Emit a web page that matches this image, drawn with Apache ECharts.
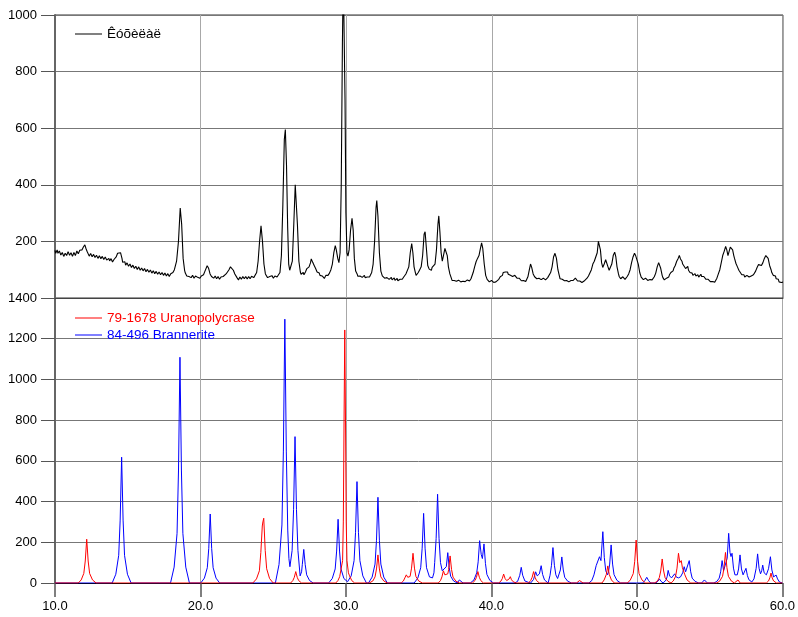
<!DOCTYPE html>
<html>
<head>
<meta charset="utf-8">
<script src="https://cdn.jsdelivr.net/npm/echarts@6/dist/echarts.min.js"></script>
<style>
html,body{margin:0;padding:0;background:#fff;}
#chart{width:798px;height:617px;}
</style>
</head>
<body>
<div id="chart"></div>
<script>
// x ticks
var xTicks = [10, 20, 30, 40, 50, 60];
var topYTicks = [200, 400, 600, 800, 1000];
var bottomYTicks = [0, 200, 400, 600, 800, 1000, 1200, 1400];

var observedName = 'Êóõèëàë';
var uranoName = '79-1678 Uranopolycrase';
var brannName = '84-496 Brannerite';

// observed pattern [2theta, counts]
var observedPattern = [
[10.0,168],[10.05,158],[10.1,160],[10.15,170],[10.2,158],[10.25,155],[10.3,166],[10.35,162],[10.4,152],[10.45,150],[10.5,161],[10.55,158],[10.6,147],[10.65,148],[10.7,158],[10.75,160],[10.8,150],[10.85,152],
[10.9,164],[10.95,163],[11.0,151],[11.05,150],[11.1,160],[11.15,158],[11.2,147],[11.25,148],[11.3,161],[11.35,160],[11.4,150],[11.45,152],[11.5,166],[11.55,165],[11.6,156],[11.65,158],[11.7,169],[11.75,168],[11.8,162],[11.85,170],
[11.9,176],[11.95,180],[12.0,184],[12.05,188],[12.12,176],[12.16,170],[12.2,165],[12.25,160],[12.3,158],[12.35,148],[12.4,150],[12.45,157],[12.5,155],[12.55,146],[12.6,148],[12.65,154],[12.7,152],[12.75,143],[12.8,145],
[12.85,151],[12.9,150],[12.95,140],[13.0,142],[13.05,149],[13.1,148],[13.15,139],[13.2,140],[13.25,147],[13.3,146],[13.35,136],[13.4,138],[13.45,145],[13.5,144],[13.55,134],[13.6,136],[13.65,141],[13.7,140],[13.75,131],[13.8,132],
[13.85,139],[13.9,138],[13.95,127],[14.0,128],[14.05,136],[14.1,135],[14.2,145],[14.3,158],[14.4,165],[14.5,160],[14.6,140],[14.65,126],[14.7,130],[14.75,120],[14.8,128],
[14.85,116],[14.9,118],[14.95,124],[15.0,122],[15.05,112],[15.1,115],[15.15,120],[15.2,118],[15.25,108],[15.3,110],[15.35,116],[15.4,114],[15.45,104],[15.5,106],[15.55,112],[15.6,110],[15.65,101],[15.7,104],[15.75,110],[15.8,108],
[15.85,98],[15.9,100],[15.95,106],[16.0,104],[16.05,96],[16.1,98],[16.15,104],[16.2,102],[16.25,93],[16.3,95],[16.35,101],[16.4,99],[16.45,91],[16.5,94],[16.55,99],[16.6,97],[16.65,88],[16.7,90],[16.75,96],[16.8,94],
[16.85,86],[16.9,88],[16.95,94],[17.0,92],[17.05,84],[17.1,86],[17.15,92],[17.2,90],[17.25,82],[17.3,84],[17.35,90],[17.4,88],[17.45,80],[17.5,82],[17.55,88],[17.6,86],[17.65,78],[17.7,80],[17.75,86],[17.8,84],
[17.85,76],[17.9,78],[17.95,86],[18.0,85],[18.1,90],[18.2,100],[18.35,130],[18.48,200],[18.6,318],[18.7,260],[18.8,140],[18.9,98],
[18.95,88],[19.0,85],[19.05,78],[19.1,80],[19.15,74],[19.2,76],[19.25,82],[19.3,80],[19.35,72],[19.4,74],[19.45,80],[19.5,78],[19.55,70],[19.6,72],[19.65,78],[19.7,76],[19.75,71],[19.8,73],[19.85,79],[19.9,77],
[19.95,70],[20.0,72],[20.05,78],[20.1,76],[20.2,82],[20.3,95],[20.45,114],[20.55,105],[20.65,85],[20.7,78],[20.75,76],[20.8,82],[20.85,80],[20.9,70],[20.95,72],
[21.0,78],[21.05,76],[21.1,68],[21.15,70],[21.2,76],[21.25,74],[21.3,66],[21.35,68],[21.4,74],[21.45,72],[21.5,78],[21.55,76],[21.6,82],[21.65,80],[21.75,85],[21.85,90],[21.95,100],
[22.05,110],[22.15,105],[22.25,98],[22.35,85],[22.45,78],[22.5,72],[22.55,70],[22.6,64],[22.65,66],[22.7,74],[22.75,72],[22.8,66],[22.85,68],[22.9,76],[22.95,74],
[23.0,68],[23.05,70],[23.1,76],[23.15,74],[23.2,67],[23.25,69],[23.3,76],[23.35,74],[23.4,68],[23.45,70],[23.5,77],[23.55,75],[23.6,70],[23.65,72],[23.75,78],[23.85,90],[23.95,130],
[24.05,200],[24.15,255],[24.25,200],[24.35,120],[24.45,85],[24.55,78],[24.6,72],[24.65,74],[24.7,78],[24.75,76],[24.8,71],[24.85,73],[24.9,79],[24.95,77],
[25.0,70],[25.05,72],[25.1,78],[25.15,76],[25.2,72],[25.25,74],[25.3,80],[25.35,78],[25.45,90],[25.55,150],[25.65,330],[25.75,560],[25.82,595],[25.9,470],
[25.98,250],[26.05,120],[26.12,98],[26.2,100],[26.3,130],[26.4,260],[26.5,400],[26.56,405],[26.65,260],[26.75,130],
[26.85,92],[26.9,84],[26.95,88],[27.0,84],[27.05,90],[27.1,82],[27.15,85],[27.2,92],[27.25,95],[27.3,104],[27.35,100],[27.45,110],[27.55,125],[27.6,138],[27.65,135],[27.7,126],[27.75,128],
[27.8,115],[27.85,118],[27.9,104],[27.95,100],[28.0,92],[28.05,95],[28.1,86],[28.15,88],[28.2,80],[28.25,82],[28.3,76],[28.35,78],[28.4,72],[28.45,74],[28.5,69],[28.55,72],[28.6,80],[28.65,78],[28.7,76],[28.75,80],
[28.85,88],[28.95,100],[29.05,120],[29.15,160],[29.25,185],[29.32,170],[29.42,140],[29.5,125],[29.58,160],[29.66,400],
[29.74,900],[29.8,1150],[29.86,1150],[29.92,700],[29.98,300],[30.05,160],[30.12,148],[30.2,170],[30.3,240],[30.4,282],
[30.48,240],[30.56,140],[30.65,95],[30.7,88],[30.75,85],[30.8,77],[30.85,80],[30.9,74],[30.95,78],[31.0,75],[31.05,82],[31.1,73],[31.15,76],[31.2,71],[31.25,80],[31.3,72],[31.35,75],
[31.4,70],[31.45,74],[31.5,72],[31.55,78],[31.6,74],[31.65,80],[31.75,90],[31.85,120],[31.95,200],[32.05,320],[32.1,344],[32.18,290],[32.28,160],
[32.38,95],[32.48,78],[32.53,72],[32.58,74],[32.64,70],[32.7,77],[32.75,70],[32.8,72],[32.85,68],[32.9,75],[32.95,66],[33.0,70],[33.05,65],[33.1,73],[33.15,64],[33.2,68],[33.25,63],[33.3,71],
[33.35,62],[33.4,66],[33.45,60],[33.5,69],[33.55,61],[33.6,64],[33.65,59],[33.7,66],[33.75,60],[33.8,62],[33.85,66],[33.9,70],[33.95,74],[34.0,78],[34.05,76],[34.1,85],[34.2,92],[34.3,110],
[34.4,160],[34.5,192],[34.58,160],[34.66,110],[34.75,90],[34.8,80],[34.85,84],[34.9,82],[34.95,90],[35.0,96],[35.05,100],[35.15,110],[35.25,150],
[35.35,225],[35.42,234],[35.5,180],[35.6,115],[35.7,102],[35.75,96],[35.8,100],[35.85,98],[35.9,108],[35.95,104],[36.0,112],[36.1,120],[36.2,170],
[36.3,260],[36.36,290],[36.44,230],[36.52,160],[36.6,130],[36.68,150],[36.78,175],[36.86,182],[36.94,150],[37.02,110],
[37.12,85],[37.22,70],[37.27,62],[37.32,64],[37.37,60],[37.42,62],[37.47,58],[37.52,64],[37.57,59],[37.62,60],[37.67,57],[37.72,63],[37.77,58],[37.82,60],[37.87,57],[37.92,62],[37.97,56],[38.02,59],
[38.07,57],[38.12,63],[38.17,58],[38.22,60],[38.27,57],[38.32,64],[38.37,58],[38.42,61],[38.47,60],[38.52,66],[38.57,68],[38.62,75],[38.72,90],[38.82,110],[38.92,128],[39.02,140],
[39.12,150],[39.22,175],[39.3,195],[39.38,175],[39.48,120],[39.58,80],[39.68,66],[39.73,60],[39.78,62],[39.83,57],[39.88,60],[39.93,56],[39.98,62],
[40.03,56],[40.08,58],[40.13,55],[40.18,60],[40.23,54],[40.28,57],[40.33,55],[40.38,60],[40.48,66],[40.58,75],[40.68,82],[40.73,80],[40.78,90],[40.83,88],[40.88,95],[40.93,92],[40.98,98],
[41.03,90],[41.08,92],[41.13,84],[41.18,86],[41.23,78],[41.28,80],[41.33,78],[41.38,84],[41.43,76],[41.48,78],[41.53,82],[41.58,80],[41.63,74],[41.68,76],[41.73,70],[41.78,74],[41.83,68],[41.88,70],[41.93,64],[41.98,66],
[42.03,61],[42.08,64],[42.13,58],[42.18,62],[42.23,57],[42.28,60],[42.33,58],[42.38,64],[42.48,75],[42.58,100],[42.66,120],[42.74,108],[42.84,85],[42.94,75],
[42.99,70],[43.04,72],[43.09,68],[43.14,74],[43.19,67],[43.24,70],[43.29,66],[43.34,72],[43.39,65],[43.44,68],[43.49,64],[43.54,70],[43.59,63],[43.64,66],[43.69,64],[43.74,68],[43.79,66],[43.84,72],[43.94,78],
[44.04,90],[44.14,110],[44.24,145],[44.34,158],[44.44,140],[44.54,100],[44.64,78],[44.69,68],[44.74,70],[44.79,63],[44.84,66],[44.89,60],[44.94,64],
[44.99,61],[45.04,66],[45.09,59],[45.14,62],[45.19,58],[45.24,64],[45.29,57],[45.34,60],[45.39,58],[45.44,62],[45.49,60],[45.54,64],[45.59,62],[45.64,66],[45.69,64],[45.74,70],[45.79,63],[45.84,68],[45.89,60],[45.94,64],
[45.99,58],[46.04,60],[46.09,56],[46.14,62],[46.19,55],[46.24,58],[46.29,56],[46.34,60],[46.39,58],[46.44,64],[46.54,70],[46.64,78],[46.74,84],[46.84,100],[46.94,120],
[47.04,130],[47.14,135],[47.24,160],[47.32,200],[47.38,205],[47.46,170],[47.54,125],[47.62,108],[47.72,120],[47.82,135],
[47.9,132],[47.98,110],[48.06,98],[48.14,96],[48.24,120],[48.34,150],[48.44,162],[48.52,145],[48.6,110],[48.7,85],
[48.75,76],[48.8,74],[48.85,68],[48.9,72],[48.95,67],[49.0,75],[49.05,68],[49.1,70],[49.15,66],[49.2,72],[49.25,70],[49.3,76],[49.35,78],[49.4,85],[49.5,100],[49.6,125],[49.7,145],
[49.8,158],[49.88,150],[49.96,148],[50.06,120],[50.16,90],[50.26,74],[50.31,68],[50.36,72],[50.41,65],[50.46,68],[50.51,64],[50.56,70],[50.61,63],[50.66,66],
[50.71,62],[50.76,68],[50.81,61],[50.86,65],[50.91,62],[50.96,68],[51.01,64],[51.06,70],[51.11,68],[51.16,75],[51.26,88],[51.36,110],[51.46,125],[51.52,129],[51.6,105],
[51.7,80],[51.75,72],[51.8,70],[51.85,64],[51.9,66],[51.95,64],[52.0,70],[52.05,68],[52.1,75],[52.15,74],[52.2,82],[52.25,80],[52.3,90],[52.35,88],[52.4,95],[52.45,96],[52.5,105],[52.6,115],
[52.7,130],[52.8,140],[52.88,150],[52.96,138],[53.06,130],[53.11,120],[53.16,125],[53.21,112],[53.26,115],[53.31,104],[53.36,108],[53.41,104],[53.46,112],[53.51,98],[53.56,100],
[53.61,90],[53.66,95],[53.71,85],[53.76,88],[53.81,80],[53.86,84],[53.91,80],[53.96,86],[54.01,78],[54.06,80],[54.11,76],[54.16,82],[54.21,74],[54.26,78],[54.31,76],[54.36,84],[54.41,76],[54.46,80],[54.51,72],[54.56,76],
[54.61,70],[54.66,72],[54.71,66],[54.76,70],[54.81,63],[54.86,66],[54.91,60],[54.96,64],[55.01,58],[55.06,60],[55.11,56],[55.16,58],[55.21,54],[55.26,57],[55.31,56],[55.36,60],[55.46,70],[55.56,85],
[55.66,100],[55.76,125],[55.86,150],[55.96,165],[56.06,182],[56.14,170],[56.22,150],[56.3,165],[56.38,180],[56.46,182],
[56.54,170],[56.62,150],[56.67,140],[56.72,135],[56.77,122],[56.82,125],[56.87,110],[56.92,112],[56.97,98],[57.02,100],[57.07,90],[57.12,92],[57.17,82],[57.22,85],[57.27,78],[57.32,82],[57.37,74],[57.42,78],
[57.47,74],[57.52,80],[57.57,73],[57.62,77],[57.67,74],[57.72,80],[57.77,74],[57.82,78],[57.87,76],[57.92,82],[57.97,82],[58.02,88],[58.12,95],[58.22,108],[58.32,118],[58.42,122],
[58.52,115],[58.62,125],[58.72,140],[58.82,150],[58.9,152],[58.98,140],[59.08,115],[59.18,100],[59.23,90],[59.28,88],[59.33,80],[59.38,84],
[59.43,74],[59.48,78],[59.53,68],[59.58,72],[59.63,62],[59.68,66],[59.73,57],[59.78,60],[59.83,52],[59.88,55],[59.93,51],[59.96,58],[60.0,56]
];

// reference pattern: Uranopolycrase (red)
var uranopolycrasePattern = [
[10.0,0],[11.6,0],[11.8,15],[11.98,47],[12.08,108],[12.18,215],[12.28,108],[12.38,47],[12.58,15],[12.83,0],
[17.0,0],[17.1,8],[17.2,0],
[23.6,0],[23.85,20],[24.05,60],[24.15,150],[24.25,280],[24.29,300],[24.35,318],[24.45,160],[24.55,70],[24.75,22],[25.0,0],
[26.2,0],[26.35,12],[26.45,28],[26.55,56],[26.65,28],[26.75,12],[26.95,0],
[29.3,0],[29.45,12],[29.57,31],[29.67,40],[29.77,110],[29.82,300],[29.87,800],[29.92,1243],[29.97,800],[30.02,300],[30.07,110],[30.17,50],[30.25,35],[30.4,12],[30.6,0],
[31.6,0],[31.85,10],[32.0,30],[32.1,69],[32.2,138],[32.3,69],[32.4,30],[32.6,10],[32.85,0],
[33.8,0],[33.95,10],[34.05,25],[34.15,40],[34.25,28],[34.35,30],[34.41,32],[34.51,73],[34.61,146],[34.71,73],[34.81,32],[35.0,10],[35.25,0],
[36.35,0],[36.5,12],[36.6,30],[36.7,60],[36.8,40],[36.9,35],[37.0,45],[37.06,66],[37.16,133],[37.26,66],[37.36,29],[37.56,9],[37.8,0],
[38.7,0],[38.87,12],[38.97,28],[39.07,56],[39.17,28],[39.27,12],[39.45,0],
[40.5,0],[40.65,9],[40.75,22],[40.84,44],[40.94,22],[41.05,12],[41.15,12],[41.22,20],[41.3,31],[41.38,16],[41.5,6],[41.7,0],
[42.55,0],[42.7,12],[42.8,28],[42.9,56],[43.0,28],[43.1,12],[43.3,0],
[45.85,0],[45.98,6],[46.06,12],[46.14,6],[46.3,0],
[47.6,0],[47.75,15],[47.9,42],[48.0,84],[48.1,42],[48.25,15],[48.45,0],
[49.35,0],[49.55,15],[49.75,46],[49.85,105],[49.95,211],[50.05,105],[50.15,46],[50.35,15],[50.6,0],
[51.2,0],[51.4,8],[51.54,26],[51.64,59],[51.74,118],[51.84,59],[51.94,26],[52.14,8],[52.35,0],
[52.5,10],[52.66,32],[52.76,73],[52.86,146],[52.95,100],[53.05,110],[53.13,75],[53.2,70],[53.3,40],[53.45,15],[53.7,0],
[55.5,0],[55.7,10],[55.89,33],[55.99,75],[56.09,150],[56.19,75],[56.29,33],[56.49,10],[56.7,0],
[56.8,0],[56.95,15],[57.1,0],
[58.9,0],[59.05,10],[59.14,25],[59.22,49],[59.3,25],[59.4,10],[59.6,0],[60.0,0]
];

// reference pattern: Brannerite (blue)
var branneritePattern = [
[10.0,0],[13.93,0],[14.18,43],[14.38,136],[14.48,309],[14.58,618],[14.68,309],[14.78,136],[14.98,43],[15.23,0],
[17.94,0],[18.19,78],[18.39,244],[18.49,555],[18.59,1109],[18.69,555],[18.79,244],[18.99,78],[19.24,0],
[20.02,0],[20.27,24],[20.47,75],[20.57,170],[20.67,339],[20.77,170],[20.87,75],[21.07,24],[21.32,0],
[25.15,0],[25.4,91],[25.6,285],[25.7,648],[25.8,1296],[25.9,648],[26.0,260],[26.08,120],[26.15,80],[26.3,160],[26.4,360],
[26.5,719],[26.6,360],[26.7,160],[26.85,35],[26.95,55],[27.0,90],[27.1,165],[27.2,90],[27.3,40],[27.5,12],[27.75,0],
[28.81,0],[29.06,22],[29.26,69],[29.36,157],[29.46,313],[29.56,157],[29.66,69],[29.86,22],[30.11,6],
[30.36,35],[30.56,110],[30.66,249],[30.76,498],[30.86,249],[30.96,110],[31.16,35],[31.41,0],
[31.55,0],[31.8,29],[32.0,93],[32.1,210],[32.2,421],[32.3,210],[32.4,93],[32.6,29],[32.85,0],
[34.69,0],[34.94,24],[35.14,75],[35.24,171],[35.34,342],[35.44,171],[35.54,75],[35.74,30],[35.95,25],
[36.05,50],[36.1,100],[36.2,218],[36.3,436],[36.4,218],[36.5,100],[36.62,60],[36.75,60],
[36.9,80],[37.0,149],[37.1,75],[37.2,33],[37.4,10],[37.65,0],[37.8,15],[37.85,20],[37.9,15],[38.05,0],
[38.55,0],[38.8,15],[38.99,50],[39.09,104],[39.19,208],[39.3,140],[39.38,120],[39.49,192],[39.59,96],[39.69,42],[39.89,13],[40.14,0],
[41.6,0],[41.8,8],[41.95,38],[42.05,77],[42.15,38],[42.3,10],[42.55,3],
[42.7,0],[42.9,18],[43.04,55],[43.15,35],[43.3,45],[43.42,85],[43.52,42],[43.65,15],[43.9,0],
[44.03,38],[44.13,87],[44.23,174],[44.33,87],[44.43,40],[44.55,22],[44.65,30],[44.74,64],[44.84,128],[44.94,64],[45.04,28],[45.24,9],[45.5,0],
[46.7,0],[46.9,12],[47.05,40],[47.2,85],[47.3,80],[47.43,129],[47.53,110],[47.66,252],[47.76,126],[47.86,60],[47.98,40],
[48.05,55],[48.13,93],[48.23,187],[48.33,93],[48.43,41],[48.63,13],[48.88,0],
[50.4,0],[50.55,12],[50.68,28],[50.8,12],[50.95,0],
[51.3,0],[51.45,9],[51.55,20],[51.65,9],[51.8,0],
[52.0,14],[52.08,31],[52.15,62],[52.25,35],[52.38,25],[52.5,32],[52.6,45],[52.7,30],[52.85,25],[53.0,30],[53.15,50],
[53.25,80],[53.35,55],[53.47,60],[53.6,110],[53.7,55],[53.8,24],[54.0,8],[54.25,0],
[54.45,0],[54.55,8],[54.64,15],[54.73,8],[54.85,0],
[55.3,0],[55.5,8],[55.66,24],[55.76,55],[55.86,110],[55.96,60],[56.06,60],[56.21,122],[56.31,244],[56.4,150],[56.47,130],
[56.54,146],[56.64,73],[56.74,40],[56.9,40],[56.99,69],[57.09,138],[57.19,69],[57.3,40],[57.4,40],[57.5,72],[57.6,36],
[57.7,16],[57.9,5],[58.05,20],[58.2,72],[58.3,143],[58.4,72],[58.5,45],[58.58,60],[58.65,88],[58.75,50],[58.9,40],
[59.05,70],[59.18,129],[59.28,64],[59.4,30],[59.5,30],[59.57,39],[59.67,20],[59.8,5],[60.0,0]
];

var FONT = '"Liberation Sans", Arial, sans-serif';
var chart = echarts.init(document.getElementById('chart'));
function plain(v) { return String(v); }

chart.setOption({
  animation: false,
  backgroundColor: '#fff',
  textStyle: { fontFamily: FONT },
  grid: [
    { left: 55, right: 15, top: 15, height: 283, show: true, borderColor: '#333', borderWidth: 1 },
    { left: 55, right: 15, top: 298, height: 285 }
  ],
  legend: [
    {
      data: [observedName], icon: 'rect',
      left: 70, top: 22, itemWidth: 27, itemHeight: 1, itemGap: 3,
      textStyle: { color: '#000', fontSize: 13.5, fontFamily: FONT }
    },
    {
      data: [
        { name: uranoName, textStyle: { color: '#ff0000' } },
        { name: brannName, textStyle: { color: '#0000ff' } }
      ], icon: 'rect',
      orient: 'vertical', left: 70, top: 306, itemWidth: 27, itemHeight: 1, itemGap: 3,
      textStyle: { fontSize: 13.5, fontFamily: FONT }
    }
  ],
  xAxis: [
    {
      type: 'value', gridIndex: 0, min: xTicks[0], max: xTicks[xTicks.length - 1], interval: 10,
      axisLabel: { show: false }, axisTick: { show: false },
      axisLine: { show: true, lineStyle: { color: '#444', width: 1 } },
      splitLine: { show: true, lineStyle: { color: '#a8a8a8', width: 1 } }
    },
    {
      type: 'value', gridIndex: 1, min: xTicks[0], max: xTicks[xTicks.length - 1], interval: 10,
      axisLabel: { show: true, fontSize: 13, color: '#000', margin: 17, fontFamily: FONT,
        formatter: function (v) { return v.toFixed(1); } },
      axisTick: { show: true, length: 14, lineStyle: { color: '#555', width: 1.5 } },
      axisLine: { show: true, onZero: false, lineStyle: { color: '#000', width: 1 } },
      splitLine: { show: true, lineStyle: { color: '#a8a8a8', width: 1 } }
    }
  ],
  yAxis: [
    {
      type: 'value', gridIndex: 0, min: 0, max: topYTicks[topYTicks.length - 1], interval: 200,
      axisLabel: { show: true, fontSize: 13, color: '#000', margin: 18, showMinLabel: false, fontFamily: FONT, formatter: plain },
      axisTick: { show: true, length: 14, lineStyle: { color: '#555', width: 1 } },
      axisLine: { show: true, lineStyle: { color: '#666', width: 2 } },
      splitLine: { show: true, lineStyle: { color: '#777', width: 1 } }
    },
    {
      type: 'value', gridIndex: 1, min: bottomYTicks[0], max: bottomYTicks[bottomYTicks.length - 1], interval: 200,
      axisLabel: { show: true, fontSize: 13, color: '#000', margin: 18, fontFamily: FONT, formatter: plain },
      axisTick: { show: true, length: 14, lineStyle: { color: '#555', width: 1 } },
      axisLine: { show: true, onZero: false, lineStyle: { color: '#666', width: 2 } },
      splitLine: { show: true, lineStyle: { color: '#777', width: 1 } }
    }
  ],
  series: [
    {
      name: observedName, type: 'line', xAxisIndex: 0, yAxisIndex: 0,
      data: observedPattern, symbol: 'none', clip: true,
      lineStyle: { color: '#000', width: 1.1 }, itemStyle: { color: '#000' }
    },
    {
      name: brannName, type: 'line', xAxisIndex: 1, yAxisIndex: 1,
      data: branneritePattern, symbol: 'none', clip: true,
      lineStyle: { color: '#0000ff', width: 1 }, itemStyle: { color: '#0000ff' }
    },
    {
      name: uranoName, type: 'line', xAxisIndex: 1, yAxisIndex: 1,
      data: uranopolycrasePattern, symbol: 'none', clip: true,
      lineStyle: { color: '#ff0000', width: 1 }, itemStyle: { color: '#ff0000' }
    }
  ]
});
</script>
</body>
</html>
